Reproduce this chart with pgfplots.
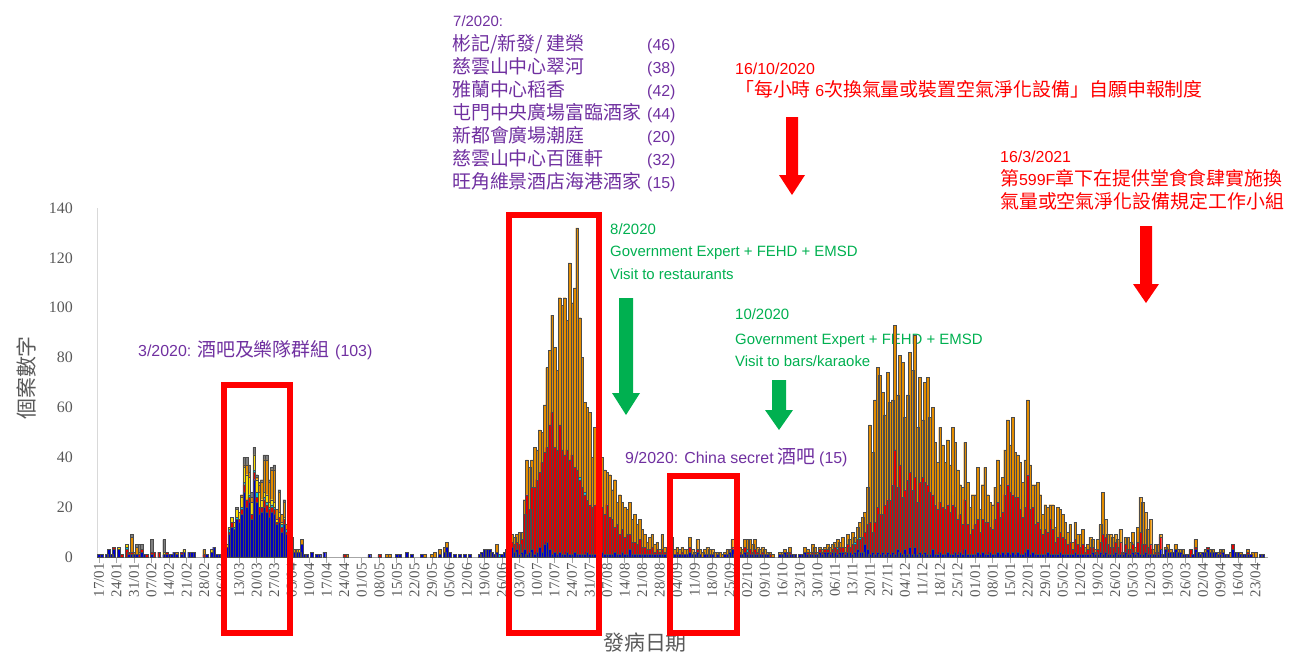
\documentclass[border=0pt]{standalone}
\usepackage{fontspec}
\setmainfont{Liberation Serif}
\newfontfamily\cjk{Noto Sans CJK TC}
\newfontfamily\arial{Liberation Sans}
\usepackage{pgfplots}
\usepackage{pgfplotstable}
\pgfplotsset{compat=1.18}
\definecolor{cblue}{HTML}{0000CC}
\definecolor{cred}{HTML}{E60000}
\definecolor{ccyan}{HTML}{00C8DC}
\definecolor{cyellow}{HTML}{FFE000}
\definecolor{corange}{HTML}{E38C00}
\definecolor{cgrey}{HTML}{7F7F7F}
\definecolor{tickgrey}{HTML}{595959}
\definecolor{cpurple}{HTML}{7030A0}
\definecolor{cgreen}{HTML}{00B050}
\definecolor{pred}{HTML}{FF0000}
\newcommand{\cjkf}{\cjk\fontsize{19}{19}\selectfont}
\newcommand{\arialf}{\arial\fontsize{16}{16}\selectfont}
\newcommand{\arialg}{\arial\fontsize{15}{15}\selectfont}

% day index 0 = 17/01/2020; B blue, R red, C cyan, Y yellow, O orange, G grey
\pgfplotstableread{
d B R C Y O G
0 1 0 0 0 0 0
1 1 0 0 0 0 0
3 1 0 0 0 0 0
4 3 0 0 0 0 0
5 1 0 0 0 0 0
6 3 1 0 0 0 0
8 3 0 0 1 0 0
9 0 1 0 0 0 0
11 0 3 1 1 0 0
12 1 1 0 0 0 0
13 1 1 0 0 6 1
14 1 0 0 0 1 0
15 1 0 0 0 3 1
16 0 1 0 0 1 3
17 2 1 0 0 0 2
18 1 0 0 0 0 0
19 0 1 0 0 0 0
21 1 1 0 0 0 5
22 0 2 0 0 0 0
24 0 2 0 0 0 0
26 1 0 0 1 0 5
27 1 1 0 0 0 0
28 1 0 0 0 0 0
29 1 0 0 0 0 0
30 2 0 0 0 0 0
31 1 0 0 0 1 0
33 1 1 0 0 0 0
34 2 0 0 1 0 0
36 2 0 0 0 0 0
37 2 0 0 0 0 0
38 2 0 0 0 0 0
42 0 1 0 0 2 0
43 1 0 0 0 0 0
45 2 0 0 1 0 0
46 4 0 0 0 0 0
47 1 0 0 0 0 0
48 1 0 0 0 0 0
49 1 0 0 0 0 0
50 4 0 0 1 0 0
51 4 0 0 1 0 0
52 9 1 1 1 0 0
53 12 2 0 2 0 0
54 11 0 1 2 0 0
55 15 0 1 3 0 1
56 14 1 0 3 0 0
57 17 2 1 4 1 0
58 26 3 1 6 1 3
59 20 3 0 10 4 3
60 22 2 1 7 2 3
61 15 2 0 5 2 2
62 31 3 1 6 0 3
63 22 2 2 5 1 1
64 17 3 0 6 3 1
65 18 2 0 3 7 1
66 20 3 1 2 13 2
67 18 3 1 3 14 2
68 16 3 1 2 8 1
69 18 2 1 2 12 1
70 17 2 1 2 13 2
71 13 1 0 1 4 0
72 14 2 0 2 8 1
73 10 2 1 1 3 0
74 13 2 0 1 6 1
75 9 1 1 0 2 0
76 6 1 0 0 1 0
77 4 0 0 1 3 0
78 2 0 0 0 1 0
79 2 0 0 0 1 0
80 2 0 0 1 0 0
81 5 0 0 0 2 0
82 1 0 0 0 0 0
83 1 0 0 0 0 0
85 2 0 0 0 0 0
87 1 0 0 0 0 0
88 1 0 0 0 0 0
90 2 0 0 0 0 0
98 0 1 0 0 0 0
99 0 0 0 0 1 0
108 1 0 0 0 0 0
112 0 1 0 0 0 0
115 0 0 0 0 1 0
116 0 0 0 0 1 0
119 1 0 0 0 0 0
120 1 0 0 0 0 0
123 2 0 0 0 0 0
125 1 0 0 0 0 0
129 1 0 0 0 0 0
130 0 0 0 0 1 0
133 0 0 0 0 1 0
134 0 0 0 0 2 0
136 1 0 0 0 2 0
138 2 0 0 0 2 0
139 4 0 0 0 2 0
140 2 0 0 0 0 0
142 1 0 0 0 0 0
144 1 0 0 0 0 0
146 1 0 0 0 0 0
148 1 0 0 0 0 0
152 1 0 0 0 0 0
153 2 0 0 0 0 0
154 3 0 0 0 0 0
155 3 0 0 0 0 0
156 3 0 0 0 0 0
157 2 0 0 0 0 0
158 1 0 0 0 0 0
159 2 0 0 0 3 0
160 0 0 1 0 0 0
161 1 0 0 0 0 0
162 2 0 0 0 0 0
163 3 0 0 0 0 0
164 3 0 0 0 0 0
165 4 2 0 0 3 0
166 2 3 0 0 3 0
167 3 3 0 0 3 0
168 1 4 0 0 5 0
169 2 5 0 0 3 0
170 3 14 0 0 6 0
171 1 24 0 0 14 0
172 2 17 0 0 17 0
173 3 25 0 0 11 0
174 1 27 0 0 16 0
175 2 29 0 0 12 0
176 4 30 0 0 17 0
177 2 36 0 0 12 0
178 5 37 0 0 19 0
179 6 38 0 0 32 0
180 3 50 0 0 30 0
181 1 57 0 0 39 0
182 2 42 0 0 40 0
183 1 42 0 0 32 0
184 2 51 0 0 51 0
185 1 42 0 0 58 0
186 1 40 0 0 63 0
187 2 41 0 0 52 0
188 1 38 0 0 79 0
189 1 40 0 0 61 0
190 2 34 0 0 72 0
191 1 34 0 0 97 0
192 1 30 1 0 64 0
193 1 27 0 0 52 0
194 1 24 1 0 36 0
195 2 21 0 0 37 0
196 1 20 0 0 37 0
197 1 19 0 0 20 0
198 1 20 0 0 31 0
199 1 14 0 0 20 0
200 1 12 0 0 16 0
201 2 18 0 0 20 0
202 1 16 0 0 18 0
203 1 20 0 0 13 0
204 1 15 0 0 17 0
205 1 14 0 0 12 0
206 2 10 0 0 19 0
207 1 12 0 0 9 0
208 1 8 0 0 16 0
209 2 9 0 0 11 0
210 1 7 0 0 12 0
211 1 8 0 0 10 0
212 3 6 0 0 13 0
213 1 5 0 0 9 0
214 1 5 0 0 11 0
215 1 4 0 0 8 0
216 1 6 0 0 8 0
217 1 3 0 0 7 0
218 1 3 0 0 5 0
219 1 2 0 0 3 0
220 1 2 0 0 5 0
221 1 3 0 0 5 0
222 1 1 0 0 3 0
223 1 2 0 0 3 0
224 1 1 0 0 1 0
225 1 2 0 0 6 0
226 1 1 0 0 2 0
227 1 1 0 0 2 0
228 1 0 0 0 2 0
229 1 2 0 0 5 0
230 1 0 0 0 2 0
231 1 1 0 0 2 0
232 1 0 0 0 2 0
233 1 1 0 0 2 0
234 1 0 0 0 2 0
235 1 0 0 0 2 0
236 2 2 0 0 4 0
237 1 0 0 0 2 0
238 1 0 0 0 1 0
239 2 1 0 0 4 0
240 1 0 0 0 2 0
241 0 0 0 0 2 0
242 1 0 0 0 2 0
243 1 0 0 0 3 0
244 1 0 0 0 2 0
245 1 0 0 0 2 0
246 0 0 0 0 2 0
247 1 0 0 0 1 0
248 0 0 0 0 2 0
249 0 0 0 0 1 0
250 1 0 0 0 1 0
251 1 0 0 0 2 0
252 2 0 0 0 1 0
253 3 1 0 0 3 0
254 1 0 0 0 2 0
255 1 0 0 0 1 0
256 1 1 0 0 2 0
257 1 0 0 0 2 0
258 2 2 0 0 3 0
259 1 1 1 0 4 0
260 1 2 0 0 4 0
261 1 1 0 0 3 0
262 1 2 0 0 4 0
263 1 1 0 0 2 0
264 1 0 0 0 2 0
265 1 1 0 0 2 0
266 1 0 0 0 2 0
267 1 0 0 0 1 0
268 0 1 0 0 1 0
269 0 0 0 0 1 0
272 1 0 0 0 1 0
273 1 0 0 0 1 0
274 2 0 0 0 1 0
275 1 1 0 0 0 0
276 1 1 0 0 2 0
277 1 0 0 0 0 0
278 1 0 0 0 0 0
280 1 0 0 0 0 0
281 1 0 0 0 0 0
282 2 0 0 0 2 0
283 1 1 0 0 1 0
284 1 0 0 0 1 0
285 1 1 0 0 3 0
286 1 1 0 0 2 0
287 1 0 0 0 1 0
288 2 1 0 0 1 0
289 1 1 0 0 1 0
290 2 1 0 0 1 0
291 2 1 0 0 2 0
292 1 1 0 0 2 0
293 2 1 0 0 2 0
294 2 2 0 0 2 0
295 1 2 1 0 3 0
296 2 2 0 0 2 0
297 2 2 0 0 4 0
298 1 1 0 0 2 0
299 2 3 0 0 4 0
300 2 2 0 0 3 0
301 1 4 0 0 5 0
302 2 3 1 0 2 0
303 3 4 0 0 5 0
304 2 5 1 0 6 0
305 2 6 0 0 8 0
306 5 5 0 0 8 0
307 3 10 0 0 15 0
308 1 13 0 0 39 0
309 2 8 0 0 32 0
310 1 13 0 0 49 0
311 2 18 0 0 56 0
312 1 16 0 0 56 0
313 2 15 0 0 49 0
314 1 20 0 0 36 0
315 2 21 0 0 51 0
316 1 22 0 0 39 0
317 2 27 0 0 34 0
318 1 42 0 0 50 0
319 3 25 0 0 37 0
320 2 35 0 0 44 0
321 1 23 0 0 54 0
322 3 24 0 0 29 0
323 1 30 0 0 34 0
324 4 30 0 0 48 0
325 1 26 0 0 48 0
326 4 28 0 0 57 0
327 1 21 0 0 30 0
328 2 28 0 0 42 0
329 1 31 0 0 23 0
330 2 28 0 0 40 0
331 1 28 0 0 43 0
332 1 25 0 0 30 0
333 3 22 0 0 35 0
334 1 20 0 0 25 0
335 1 18 0 0 19 0
336 2 20 0 0 30 0
337 1 19 0 0 25 0
338 1 18 0 0 19 0
339 2 19 0 0 26 0
340 1 17 0 0 19 0
341 1 20 0 0 31 0
342 2 18 0 0 26 0
343 1 14 0 0 20 0
344 2 15 0 0 12 0
345 1 12 0 0 15 0
346 3 20 0 0 23 0
347 1 12 0 0 17 0
348 1 8 0 0 11 0
349 1 10 0 0 14 0
350 1 12 0 0 12 0
351 2 13 0 0 21 0
352 1 9 0 0 9 0
353 2 13 0 0 14 0
354 1 13 0 0 22 0
355 1 13 0 0 11 0
356 2 10 0 0 10 0
357 1 10 0 0 10 0
358 1 14 0 0 13 0
359 2 20 0 0 17 0
360 1 15 0 0 13 0
361 2 16 0 0 14 0
362 1 24 0 0 18 0
363 2 27 0 0 26 0
364 1 25 0 0 19 0
365 2 23 0 0 31 0
366 1 23 0 0 18 0
367 2 22 0 0 17 0
368 1 18 0 0 19 0
369 1 15 0 0 14 0
370 2 18 0 0 19 0
371 3 30 0 0 30 0
372 1 18 0 0 18 0
373 2 18 0 0 9 0
374 1 12 0 0 16 0
375 1 13 0 0 16 0
376 1 10 0 0 14 0
377 1 8 0 0 8 0
378 1 10 0 0 10 0
379 2 8 0 0 10 0
380 1 14 0 0 6 0
381 1 10 0 0 10 0
382 1 5 0 0 6 0
383 1 7 0 0 12 0
384 2 8 0 0 9 0
385 1 7 0 0 9 0
386 1 6 0 0 7 0
387 1 4 0 0 5 0
388 1 5 0 0 7 0
389 1 2 0 0 3 0
390 2 5 0 0 7 0
391 1 4 0 0 4 0
392 1 3 0 0 5 0
393 1 4 0 0 6 0
394 1 1 0 0 2 0
395 1 2 0 0 2 0
396 1 3 0 0 4 0
397 2 2 0 0 3 0
398 1 1 0 0 1 0
399 1 2 0 0 4 0
400 2 4 0 0 7 0
401 1 8 0 0 17 0
402 2 6 0 0 7 0
403 1 4 0 0 4 0
404 1 3 0 0 5 0
405 1 3 0 0 4 0
406 2 4 0 0 3 0
407 1 3 0 0 3 0
408 1 5 0 0 5 0
409 1 1 0 0 0 0
410 2 3 0 0 3 0
411 1 2 0 0 5 0
412 1 2 0 0 3 0
413 2 3 0 0 5 0
414 1 1 0 0 2 0
415 2 4 0 0 6 0
416 1 9 0 0 14 0
417 1 4 0 0 17 0
418 2 3 0 0 13 0
419 1 3 0 0 7 0
420 1 4 0 0 10 0
421 1 0 0 0 2 0
422 1 1 0 0 3 0
423 1 1 0 0 3 0
424 3 5 0 0 1 0
425 1 0 0 0 0 0
426 3 0 0 0 1 0
427 2 1 0 0 2 0
428 2 0 0 0 1 0
429 2 0 0 0 0 0
430 3 0 0 0 2 0
431 2 0 0 0 1 0
432 2 0 0 0 1 0
433 1 0 0 0 2 0
434 1 0 0 0 0 0
435 1 0 0 0 0 0
436 0 3 0 0 0 0
437 1 0 0 0 0 0
438 3 1 0 0 3 0
439 2 0 0 0 0 0
440 1 0 0 0 1 0
441 2 0 0 0 0 0
442 2 0 0 0 1 0
443 3 1 0 0 0 0
444 2 0 0 0 1 0
445 2 0 0 0 1 0
446 2 0 0 0 0 0
447 1 0 0 0 1 0
448 1 1 0 0 1 0
449 2 0 0 0 1 0
450 1 0 0 0 0 0
451 1 0 0 0 0 0
452 0 0 0 0 2 0
453 3 2 0 0 0 0
454 2 0 0 0 0 0
455 2 0 0 0 0 0
456 1 0 0 0 1 0
457 1 0 0 0 0 0
458 1 0 0 0 0 0
459 1 1 0 0 1 0
460 1 0 0 0 0 0
461 0 0 0 0 2 0
462 0 0 0 0 2 0
464 1 0 0 0 0 0
465 1 0 0 0 0 0
}\datatable

\begin{document}
\begin{tikzpicture}
\useasboundingbox (0bp,0bp) rectangle (1303bp,-655bp);

% text annotations (behind bars)
\begin{scope}[x=1bp,y=-1bp]
\node[anchor=base west,inner sep=0pt,text=cpurple] at (453,26) {\arialg 7/2020:};
\node[anchor=base west,inner sep=0pt,text=cpurple] at (452,50) {\cjkf 彬記/新發/ 建榮};
\node[anchor=base west,inner sep=0pt,text=cpurple] at (452,73) {\cjkf 慈雲山中心翠河};
\node[anchor=base west,inner sep=0pt,text=cpurple] at (452,96) {\cjkf 雅蘭中心稻香};
\node[anchor=base west,inner sep=0pt,text=cpurple] at (452,119) {\cjkf 屯門中央廣場富臨酒家};
\node[anchor=base west,inner sep=0pt,text=cpurple] at (452,142) {\cjkf 新都會廣場潮庭};
\node[anchor=base west,inner sep=0pt,text=cpurple] at (452,165) {\cjkf 慈雲山中心百匯軒};
\node[anchor=base west,inner sep=0pt,text=cpurple] at (452,188) {\cjkf 旺角維景酒店海港酒家};
\node[anchor=base west,inner sep=0pt,text=cpurple] at (647,50) {\arialf (46)};
\node[anchor=base west,inner sep=0pt,text=cpurple] at (647,73) {\arialf (38)};
\node[anchor=base west,inner sep=0pt,text=cpurple] at (647,96) {\arialf (42)};
\node[anchor=base west,inner sep=0pt,text=cpurple] at (647,119) {\arialf (44)};
\node[anchor=base west,inner sep=0pt,text=cpurple] at (647,142) {\arialf (20)};
\node[anchor=base west,inner sep=0pt,text=cpurple] at (647,165) {\arialf (32)};
\node[anchor=base west,inner sep=0pt,text=cpurple] at (647,188) {\arialf (15)};
\node[anchor=base west,inner sep=0pt,text=cpurple] at (138,356) {\arialf 3/2020:};
\node[anchor=base west,inner sep=0pt,text=cpurple] at (197,356) {\cjkf 酒吧及樂隊群組};
\node[anchor=base west,inner sep=0pt,text=cpurple] at (335,356) {\arialf (103)};
\node[anchor=base west,inner sep=0pt,text=cpurple] at (625,463) {\arialf 9/2020: China secret};
\node[anchor=base west,inner sep=0pt,text=cpurple] at (777,463) {\cjkf 酒吧};
\node[anchor=base west,inner sep=0pt,text=cpurple] at (819,463) {\arialf (15)};
\node[anchor=base west,inner sep=0pt,text=cgreen] at (610,234) {\arialg 8/2020};
\node[anchor=base west,inner sep=0pt,text=cgreen] at (610,256) {\arialg Government Expert + FEHD + EMSD};
\node[anchor=base west,inner sep=0pt,text=cgreen] at (610,279) {\arialg Visit to restaurants};
\node[anchor=base west,inner sep=0pt,text=cgreen] at (735,319) {\arialg 10/2020};
\node[anchor=base west,inner sep=0pt,text=cgreen] at (735,344) {\arialg Government Expert + FEHD + EMSD};
\node[anchor=base west,inner sep=0pt,text=cgreen] at (735,366) {\arialg Visit to bars/karaoke};
\node[anchor=base west,inner sep=0pt,text=pred] at (735,74) {\arialf 16/10/2020};
\node[anchor=base west,inner sep=0pt,text=pred] at (735,96) {\cjkf 「每小時{\arialf\ 6}次換氣量或裝置空氣淨化設備」自願申報制度};
\node[anchor=base west,inner sep=0pt,text=pred] at (1000,162) {\arialf 16/3/2021};
\node[anchor=base west,inner sep=0pt,text=pred] at (1000,185) {\cjkf 第{\arialf 599F}章下在提供堂食食肆實施換};
\node[anchor=base west,inner sep=0pt,text=pred] at (1000,208) {\cjkf 氣量或空氣淨化設備規定工作小組};
\end{scope}

\begin{axis}[
  at={(97bp,-557bp)}, anchor=south west,
  scale only axis, width=1171bp, height=349bp,
  xmin=-0.8, xmax=467, ymin=0, ymax=140,
  ybar stacked, bar width=1.12,
  axis x line*=bottom, axis y line*=left,
  x axis line style={draw=black!35, line width=1bp},
  y axis line style={draw=black!15, line width=1bp},
  xtick={0,7,...,462},
  xticklabels={17/01,24/01,31/01,07/02,14/02,21/02,28/02,06/03,13/03,20/03,27/03,03/04,10/04,17/04,24/04,01/05,08/05,15/05,22/05,29/05,05/06,12/06,19/06,26/06,03/07,10/07,17/07,24/07,31/07,07/08,14/08,21/08,28/08,04/09,11/09,18/09,25/09,02/10,09/10,16/10,23/10,30/10,06/11,13/11,20/11,27/11,04/12,11/12,18/12,25/12,01/01,08/01,15/01,22/01,29/01,05/02,12/02,19/02,26/02,05/03,12/03,19/03,26/03,02/04,09/04,16/04,23/04},
  x tick style={draw=black!35, line width=0.8bp},
  tick align=outside, major tick length=6bp,
  ytick={0,20,...,140}, y tick style={draw=none},
  xticklabel style={rotate=90, anchor=east, font=\fontsize{15}{15}\selectfont, text=tickgrey, inner sep=0pt},
  yticklabel style={anchor=east, font=\fontsize{16}{16}\selectfont, text=tickgrey, inner sep=0pt, xshift=-18bp},
  /pgf/number format/assume math mode=true,
  ylabel={\cjk\fontsize{21}{21}\selectfont 個案數字},
  xlabel={\cjk\fontsize{21}{21}\selectfont 發病日期},
  ylabel style={at={(rel axis cs:-0.0598,0.513)}, anchor=center, text=tickgrey},
  xlabel style={at={(rel axis cs:0.468,-0.2464)}, anchor=center, text=tickgrey},
]
\addplot[fill=cblue, draw=black!70, line width=0.3bp] table[x=d,y=B]{\datatable};
\addplot[fill=cred, draw=black!70, line width=0.3bp] table[x=d,y=R]{\datatable};
\addplot[fill=ccyan, draw=black!70, line width=0.3bp] table[x=d,y=C]{\datatable};
\addplot[fill=cyellow, draw=black!70, line width=0.3bp] table[x=d,y=Y]{\datatable};
\addplot[fill=corange, draw=black!70, line width=0.3bp] table[x=d,y=O]{\datatable};
\addplot[fill=cgrey, draw=black!70, line width=0.3bp] table[x=d,y=G]{\datatable};
\end{axis}

\begin{scope}[x=1bp,y=-1bp]
% highlight boxes
\draw[pred, line width=6bp] (224,385) rectangle (290,633);
\draw[pred, line width=6bp] (509,215) rectangle (599,633);
\draw[pred, line width=6bp] (670,476) rectangle (737,633);
% arrows
\fill[cgreen] (619,298) -- (633,298) -- (633,393) -- (640,393) -- (626,415) -- (612,393) -- (619,393) -- cycle;
\fill[cgreen] (772,380) -- (786,380) -- (786,410) -- (793,410) -- (779,430) -- (765,410) -- (772,410) -- cycle;
\fill[pred] (786,117) -- (798,117) -- (798,175) -- (805,175) -- (792,195) -- (779,175) -- (786,175) -- cycle;
\fill[pred] (1140,226) -- (1152,226) -- (1152,284) -- (1159,284) -- (1146,303) -- (1133,284) -- (1140,284) -- cycle;
\end{scope}
\end{tikzpicture}
\end{document}
